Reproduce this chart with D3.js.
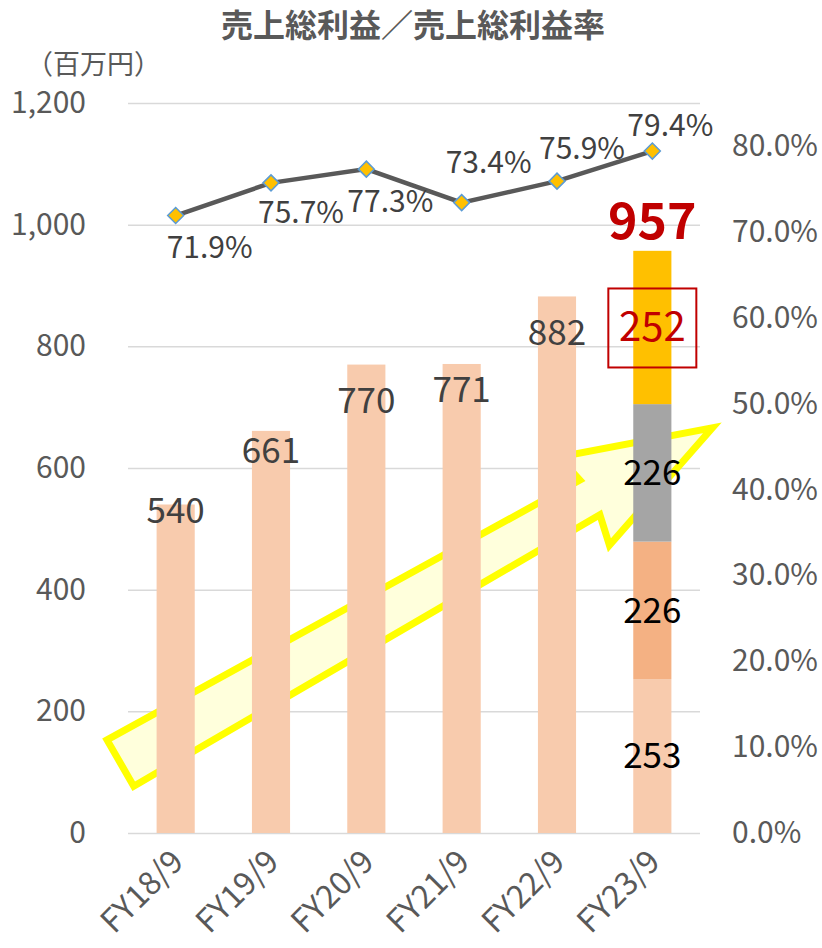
<!DOCTYPE html>
<html><meta charset="UTF-8">
<title>売上総利益／売上総利益率</title>
<style>
  body { margin: 0; background: #fff; overflow: hidden; }
  svg text { font-family: "Noto Sans CJK JP", "Noto Sans", sans-serif; }
  .tick text { fill: #595959; font-size: 30px; }
  .grid line { stroke: #d9d9d9; stroke-width: 1.5px; }
</style>
<script src="https://cdn.jsdelivr.net/npm/d3@7"></script>
<body>
<svg width="822" height="948"></svg>
<script>

// values
var categories = ["FY18/9", "FY19/9", "FY20/9", "FY21/9", "FY22/9", "FY23/9"];
var grossProfit = [540, 661, 770, 771, 882];        // FY18/9 .. FY22/9
var fy23Parts = [253, 226, 226, 252];               // FY23/9 stacked, bottom to top
var fy23Total = 957;
var marginRate = [71.9, 75.7, 77.3, 73.4, 75.9, 79.4];
var leftTicks = [0, 200, 400, 600, 800, 1000, 1200];
var rightTicks = [0, 10, 20, 30, 40, 50, 60, 70, 80];

// layout bits
var partColors = ["#f8cbad", "#f4b183", "#a5a5a5", "#ffc000"];
var barLabelDy = [6, 20, 36, 26, 36];               // label centre below the bar top
var rateLabelOff = [[34, 32], [30, 30], [24, 32], [27, -40], [25, -33], [18, -26]];
// trend arrow, in (category index, value) units
var arrowPts = [[-0.72, 153], [4.24, 580], [4.02, 618], [5.63, 666],
                [4.55, 473], [4.45, 523], [-0.44, 77]];

var svg = d3.select("svg"),
    plotL = 128, plotR = 700, plotT = 103, plotB = 833;

var x = d3.scaleBand().domain(categories).range([plotL, plotR])
    .paddingInner(0.6).paddingOuter(0.3);
var xi = d3.scaleLinear().domain([-0.5, 5.5]).range([plotL, plotR]);
var y = d3.scaleLinear().domain([0, 1200]).range([plotB, plotT]);
var yr = d3.scaleLinear().domain([0, 85]).range([plotB, plotT]);
var cx = function(i) { return x(categories[i]) + x.bandwidth() / 2; };

// title + unit
svg.append("text")
    .attr("x", 413).attr("y", 37)
    .attr("text-anchor", "middle")
    .style("font-size", "32px").style("font-weight", "bold").style("fill", "#595959")
    .text("売上総利益／売上総利益率");
svg.append("text")
    .attr("x", 26).attr("y", 74)
    .style("font-size", "27px").style("fill", "#595959")
    .text("（百万円）");

// gridlines
svg.append("g").attr("class", "grid")
    .attr("transform", "translate(" + plotL + ",0)")
    .call(d3.axisLeft(y).tickValues(leftTicks).tickSize(-(plotR - plotL)).tickFormat(""))
    .call(g => g.select(".domain").remove());

// arrow
svg.append("path")
    .attr("d", d3.line().x(d => xi(d[0])).y(d => y(d[1]))(arrowPts) + "Z")
    .attr("fill", "#ffffdc")
    .attr("stroke", "#ffff00")
    .attr("stroke-width", 7)
    .attr("stroke-linejoin", "miter");

// axes
svg.append("g")
    .attr("transform", "translate(" + plotL + ",0)")
    .call(d3.axisLeft(y).tickValues(leftTicks).tickSize(0).tickPadding(42).tickFormat(d3.format(",")))
    .call(g => g.select(".domain").remove());

svg.append("g")
    .attr("transform", "translate(" + plotR + ",0)")
    .call(d3.axisRight(yr).tickValues(rightTicks).tickSize(0).tickPadding(32)
      .tickFormat(d => d.toFixed(1) + "%"))
    .call(g => g.select(".domain").remove());

svg.selectAll(".xlab")
    .data(categories)
  .enter().append("text")
    .attr("class", "xlab")
    .attr("transform", (d, i) => "translate(" + (cx(i) - 4) + "," + 850 + ") rotate(-45)")
    .attr("text-anchor", "end")
    .attr("dy", "0.6em")
    .style("font-size", "32px").style("fill", "#595959")
    .text(d => d);

// single bars
svg.selectAll(".bar")
    .data(grossProfit)
  .enter().append("rect")
    .attr("class", "bar")
    .attr("x", (d, i) => x(categories[i]))
    .attr("width", x.bandwidth())
    .attr("y", d => y(d))
    .attr("height", d => y(0) - y(d))
    .attr("fill", partColors[0]);

svg.selectAll(".barlab")
    .data(grossProfit)
  .enter().append("text")
    .attr("class", "barlab")
    .attr("x", (d, i) => cx(i))
    .attr("y", (d, i) => y(d) + barLabelDy[i])
    .attr("dy", "0.35em")
    .attr("text-anchor", "middle")
    .style("font-size", "35px").style("fill", "#404040")
    .text(d => d);

// FY23 stacked bar
var acc = 0;
var segs = fy23Parts.map(function(v, k) {
  var s = {v: v, y0: acc, y1: acc + v, k: k};
  acc += v;
  return s;
});
var last = categories.length - 1;

svg.selectAll(".seg")
    .data(segs)
  .enter().append("rect")
    .attr("class", "seg")
    .attr("x", x(categories[last]))
    .attr("width", x.bandwidth())
    .attr("y", d => y(d.y1))
    .attr("height", d => y(d.y0) - y(d.y1))
    .attr("fill", d => partColors[d.k]);

svg.selectAll(".seglab")
    .data(segs)
  .enter().append("text")
    .attr("class", "seglab")
    .attr("x", cx(last))
    .attr("y", d => y((d.y0 + d.y1) / 2))
    .attr("dy", "0.35em")
    .attr("text-anchor", "middle")
    .style("font-size", d => d.k === 3 ? "40px" : "35px")
    .style("fill", d => d.k === 3 ? "#c00000" : "#000")
    .text(d => d.v);

// red box round the newest part
var topSeg = segs[segs.length - 1];
svg.append("rect")
    .attr("x", cx(last) - 44)
    .attr("y", y((topSeg.y0 + topSeg.y1) / 2) - 39)
    .attr("width", 88).attr("height", 79)
    .attr("fill", "none")
    .attr("stroke", "#c00000").attr("stroke-width", 2);

svg.append("text")
    .attr("x", cx(last))
    .attr("y", y(fy23Total) - 12)
    .attr("text-anchor", "middle")
    .style("font-size", "50px").style("font-weight", "bold").style("fill", "#c00000")
    .text(fy23Total);

// margin line
svg.append("path")
    .attr("d", d3.line().x((d, i) => cx(i)).y(d => yr(d))(marginRate))
    .attr("fill", "none")
    .attr("stroke", "#595959")
    .attr("stroke-width", 4.5);

svg.selectAll(".mark")
    .data(marginRate)
  .enter().append("path")
    .attr("class", "mark")
    .attr("transform", (d, i) => "translate(" + cx(i) + "," + yr(d) + ")")
    .attr("d", "M0,-8L8,0L0,8L-8,0Z")
    .attr("fill", "#ffc000")
    .attr("stroke", "#5b9bd5")
    .attr("stroke-width", 1.5);

svg.selectAll(".ratelab")
    .data(marginRate)
  .enter().append("text")
    .attr("class", "ratelab")
    .attr("x", (d, i) => cx(i) + rateLabelOff[i][0])
    .attr("y", (d, i) => yr(d) + rateLabelOff[i][1])
    .attr("dy", "0.35em")
    .attr("text-anchor", "middle")
    .style("font-size", "30px").style("fill", "#404040")
    .text(d => d.toFixed(1) + "%");

</script>
</body>
</html>
